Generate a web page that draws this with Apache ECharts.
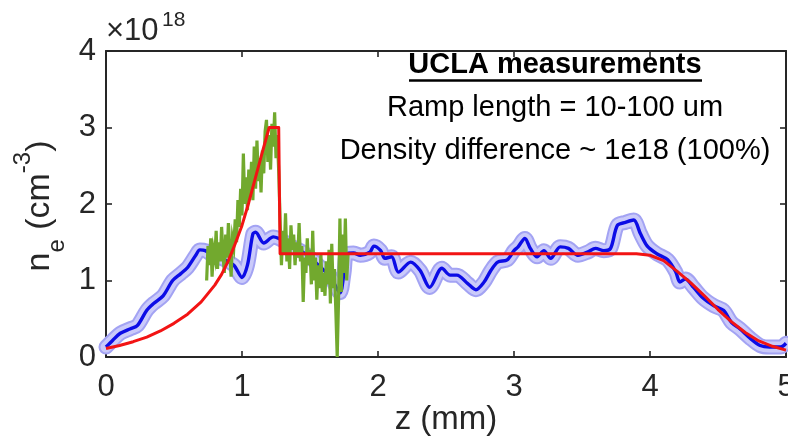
<!DOCTYPE html>
<html>
<head>
<meta charset="utf-8">
<script src="https://cdn.jsdelivr.net/npm/echarts@6/dist/echarts.min.js"></script>
<style>
  html, body { margin: 0; padding: 0; background: #fff; }
  #chart { width: 788px; height: 440px; }
</style>
</head>
<body>
<div id="chart"></div>
<script>
// Axis ticks
const xTicks = [0, 1, 2, 3, 4, 5];
const yTicks = [0, 1, 2, 3, 4];

// Measured density profile (units of 1e18 cm^-3) along z (mm)
const zBlue = [0.00, 0.05, 0.105, 0.18, 0.23, 0.30, 0.35, 0.42, 0.49, 0.55, 0.60, 0.66, 0.69, 0.73, 0.80, 0.86, 0.94, 1.00, 1.04, 1.08, 1.10, 1.16, 1.23, 1.27, 1.30, 1.36, 1.43, 1.50, 1.58, 1.65, 1.72, 1.75, 1.77, 1.82, 1.87, 1.94, 1.97, 2.02, 2.05, 2.10, 2.15, 2.24, 2.31, 2.38, 2.47, 2.53, 2.58, 2.66, 2.72, 2.78, 2.83, 2.88, 2.95, 3.00, 3.03, 3.08, 3.12, 3.17, 3.22, 3.27, 3.34, 3.40, 3.47, 3.54, 3.60, 3.66, 3.71, 3.76, 3.82, 3.88, 3.93, 3.98, 4.05, 4.13, 4.19, 4.22, 4.26, 4.32, 4.39, 4.47, 4.54, 4.60, 4.66, 4.74, 4.81, 4.88, 4.96, 5.00];
const neBlue = [0.13, 0.22, 0.31, 0.37, 0.41, 0.61, 0.70, 0.80, 1.00, 1.09, 1.17, 1.33, 1.40, 1.39, 1.31, 1.28, 1.20, 1.04, 1.20, 1.61, 1.63, 1.49, 1.57, 1.55, 1.52, 1.45, 1.39, 1.30, 1.17, 1.05, 0.84, 1.10, 1.35, 1.36, 1.33, 1.37, 1.45, 1.39, 1.29, 1.31, 1.11, 1.24, 1.13, 0.91, 1.16, 1.07, 1.07, 0.96, 0.88, 0.98, 1.13, 1.24, 1.27, 1.39, 1.44, 1.55, 1.42, 1.31, 1.39, 1.29, 1.44, 1.42, 1.33, 1.37, 1.42, 1.39, 1.42, 1.72, 1.76, 1.79, 1.61, 1.45, 1.35, 1.27, 1.11, 0.98, 1.02, 0.91, 0.77, 0.67, 0.61, 0.45, 0.37, 0.24, 0.15, 0.13, 0.13, 0.18];

// Raw interferometric trace over the upramp region
const zGreen = [0.74, 0.75, 0.76, 0.77, 0.78, 0.79, 0.80, 0.81, 0.82, 0.83, 0.84, 0.85, 0.86, 0.87, 0.88, 0.89, 0.90, 0.91, 0.92, 0.93, 0.94, 0.95,
  0.96, 0.97, 0.98, 0.99, 1.00, 1.01, 1.02, 1.03, 1.04, 1.05, 1.06, 1.07, 1.08, 1.09, 1.10, 1.11, 1.12, 1.13, 1.14, 1.15, 1.16, 1.17, 1.18, 1.19, 1.20, 1.21, 1.22, 1.23, 1.24, 1.25, 1.26, 1.27,
  1.28, 1.29, 1.30, 1.31, 1.32, 1.33, 1.34, 1.35, 1.36, 1.37, 1.38, 1.39, 1.40, 1.41, 1.42, 1.43, 1.44, 1.45, 1.46, 1.47, 1.48, 1.49, 1.50, 1.51, 1.52, 1.53, 1.54, 1.55, 1.56, 1.57, 1.58, 1.59, 1.60, 1.61, 1.62, 1.63, 1.64, 1.65, 1.66, 1.67, 1.68, 1.69, 1.70, 1.71, 1.72, 1.73, 1.74, 1.75, 1.76, 1.77, 1.78];
const neGreen = [1.00, 1.45, 1.20, 1.55, 1.05, 1.40, 1.30, 1.65, 1.15, 1.50, 1.25, 1.70, 1.35, 1.10, 1.60, 1.30, 1.75, 1.40, 1.05, 1.55, 1.45, 1.80,
  1.50, 2.05, 1.70, 2.20, 1.85, 2.66, 2.00, 2.35, 1.92, 2.45, 2.10, 2.55, 2.05, 2.75, 2.20, 2.83, 2.30, 2.60, 2.15, 2.70, 2.40, 2.95, 3.10, 2.55, 2.90, 2.45, 3.05, 2.75, 3.20, 2.60, 2.90, 2.42,
  1.80, 1.20, 1.65, 1.35, 1.88, 1.25, 1.55, 1.15, 1.72, 1.40, 1.60, 1.20, 1.50, 1.30, 1.75, 1.25, 1.45, 0.72, 1.30, 1.10, 1.55, 1.20, 1.40, 0.95, 1.65, 1.00, 1.30, 0.75, 1.20, 0.90, 1.35, 0.85, 1.10, 0.80, 1.25, 0.95, 1.40, 0.70, 1.48, 0.90, 1.15, 0.60, 0.00, 0.75, 1.81, 0.85, 1.60, 1.10, 1.81, 1.00, 1.35];

// Model profile: exponential upramp, spike, plateau and downramp
const zRed = [0.00, 0.10, 0.20, 0.30, 0.40, 0.50, 0.60, 0.70, 0.80, 0.85, 0.90, 0.95, 1.00, 1.05, 1.10, 1.15, 1.20, 1.27, 1.28, 3.90, 4.00, 4.10, 4.20, 4.30, 4.40, 4.50, 4.60, 4.70, 4.80, 4.90, 5.00];
const neRed = [0.11, 0.15, 0.20, 0.26, 0.34, 0.44, 0.56, 0.72, 0.94, 1.08, 1.26, 1.48, 1.72, 2.02, 2.35, 2.68, 3.00, 3.00, 1.35, 1.35, 1.33, 1.26, 1.12, 0.97, 0.80, 0.62, 0.46, 0.32, 0.21, 0.14, 0.09];

const pairs = (xs, ys) => xs.map((x, i) => [x, ys[i]]);

const FONT = "'Liberation Sans', Arial, Helvetica, sans-serif";
const INK = '#262626';

const chart = echarts.init(document.getElementById('chart'), null, { renderer: 'canvas' });

const axisCommon = {
  type: 'value',
  axisLine: { show: true, onZero: false, lineStyle: { color: INK, width: 2 } },
  axisTick: { show: true, inside: true, length: 6, lineStyle: { color: INK, width: 1.6 } },
  splitLine: { show: false },
  axisLabel: { show: false }
};

const blueData = pairs(zBlue, neBlue);

chart.setOption({
  animation: false,
  backgroundColor: '#ffffff',
  grid: { left: 106, right: 2, top: 51, bottom: 83, containLabel: false, outerBoundsMode: 'none' },
  xAxis: [
    Object.assign({}, axisCommon, {
      min: xTicks[0], max: xTicks[xTicks.length - 1], interval: 1, position: 'bottom',
      axisLabel: { show: true, color: INK, fontSize: 31, fontFamily: FONT, margin: 15 }
    }),
    Object.assign({}, axisCommon, {
      min: xTicks[0], max: xTicks[xTicks.length - 1], interval: 1, position: 'top'
    })
  ],
  yAxis: [
    Object.assign({}, axisCommon, {
      min: yTicks[0], max: yTicks[yTicks.length - 1], interval: 1, position: 'left',
      axisLabel: { show: true, color: INK, fontSize: 31, fontFamily: FONT, margin: 10 }
    }),
    Object.assign({}, axisCommon, {
      min: yTicks[0], max: yTicks[yTicks.length - 1], interval: 1, position: 'right'
    })
  ],
  series: [
    { // uncertainty band edge
      type: 'line', data: blueData, smooth: 0.3, showSymbol: false, symbol: 'none', z: 1,
      lineStyle: { color: '#a3a3f3', width: 15, cap: 'round', join: 'round' }
    },
    { // uncertainty band fill
      type: 'line', data: blueData, smooth: 0.3, showSymbol: false, symbol: 'none', z: 2,
      lineStyle: { color: '#cacafa', width: 11, cap: 'round', join: 'round' }
    },
    { // mean measured profile
      type: 'line', data: blueData, smooth: 0.3, showSymbol: false, symbol: 'none', z: 3,
      lineStyle: { color: '#0c0ce6', width: 3.4, join: 'round' }
    },
    { // raw trace
      type: 'line', data: pairs(zGreen, neGreen), showSymbol: false, symbol: 'none', z: 4,
      lineStyle: { color: '#72a92e', width: 3.2, join: 'miter' }
    },
    { // model
      type: 'line', data: pairs(zRed, neRed), showSymbol: false, symbol: 'none', z: 5,
      lineStyle: { color: '#f21414', width: 3, join: 'round' }
    }
  ],
  graphic: [
    { // exponent marker
      type: 'text', x: 106, y: 31, z: 10,
      style: { text: '\u00d710', fontSize: 31, fontFamily: FONT, fill: INK, align: 'left', verticalAlign: 'middle' }
    },
    {
      type: 'text', x: 162, y: 20, z: 10,
      style: { text: '18', fontSize: 21, fontFamily: FONT, fill: INK, align: 'left', verticalAlign: 'middle' }
    },
    { // y-axis title
      type: 'text', x: 40, y: 206, rotation: Math.PI / 2, z: 10,
      style: {
        text: '{n|n}{s|e}{n| (cm}{p|-3}{n|)}',
        align: 'center', verticalAlign: 'middle',
        rich: {
          n: { fontSize: 34, fontFamily: FONT, fill: INK, lineHeight: 58, verticalAlign: 'middle' },
          s: { fontSize: 24, fontFamily: FONT, fill: INK, lineHeight: 38, verticalAlign: 'bottom' },
          p: { fontSize: 24, fontFamily: FONT, fill: INK, lineHeight: 30, verticalAlign: 'top' }
        }
      }
    },
    { // x-axis title
      type: 'text', x: 446, y: 420, z: 10,
      style: { text: 'z (mm)', fontSize: 33, fontFamily: FONT, fill: INK, align: 'center', verticalAlign: 'middle' }
    },
    {
      type: 'text', x: 555, y: 65, z: 10,
      style: { text: 'UCLA measurements', fontSize: 29, fontWeight: 'bold', fontFamily: FONT, fill: '#000', align: 'center', verticalAlign: 'middle' }
    },
    {
      type: 'line', z: 10,
      shape: { x1: 409, y1: 80.5, x2: 702, y2: 80.5 },
      style: { stroke: '#000', lineWidth: 2.5 }
    },
    {
      type: 'text', x: 555, y: 108, z: 10,
      style: { text: 'Ramp length = 10-100 um', fontSize: 29, fontFamily: FONT, fill: '#000', align: 'center', verticalAlign: 'middle' }
    },
    {
      type: 'text', x: 555, y: 151, z: 10,
      style: { text: 'Density difference ~ 1e18 (100%)', fontSize: 29, fontFamily: FONT, fill: '#000', align: 'center', verticalAlign: 'middle' }
    }
  ]
});
</script>
</body>
</html>
